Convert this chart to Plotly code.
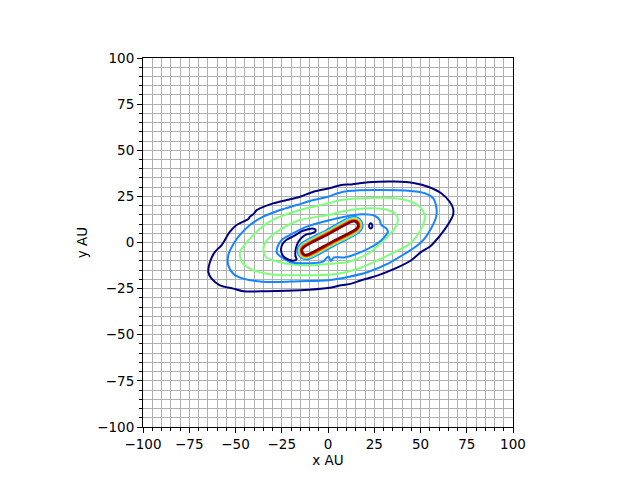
import plotly.graph_objects as go

# ---- data: contour paths (x AU, y AU) ----
navy_outer_x = [-64.7, -63.8, -61.1, -57.5, -53.0, -49.4, -43.1, -42.2, -40.4, -38.5, -36.8, -29.6, -22.3, -15.1, -7.9, 1.1, 3.6, 7.2, 12.6, 21.6, 36.1, 46.9, 54.1, 61.2, 65.8, 67.6, 67.6, 65.8, 62.2, 57.7, 55.0, 50.4, 45.0, 36.1, 27.0, 18.0, 12.6, 7.2, 0.0, -15.1, -33.1, -45.8, -51.2, -58.4, -62.9]
navy_outer_y = [-16.0, -10.6, -5.1, -1.4, 5.9, 9.5, 12.7, 14.0, 15.3, 17.6, 18.5, 21.2, 23.0, 24.8, 27.5, 29.5, 30.2, 31.2, 31.5, 32.6, 33.0, 32.1, 30.2, 26.7, 22.1, 18.5, 14.9, 11.3, 5.9, 0.4, -2.3, -5.1, -9.6, -14.2, -17.8, -20.5, -22.3, -23.2, -24.7, -25.9, -26.4, -26.4, -25.0, -23.2, -19.6]

blue_outer_x = [-53.9, -53.9, -50.8, -47.6, -42.2, -35.0, -25.9, -16.9, -7.9, 0.0, 5.4, 10.8, 27.0, 45.0, 52.3, 56.8, 58.5, 58.5, 55.8, 52.3, 48.6, 41.5, 32.4, 21.6, 10.8, 0.0, -15.1, -33.1, -45.8, -51.2]
blue_outer_y = [-12.4, -6.9, -0.3, 4.1, 9.5, 14.0, 17.6, 20.3, 23.0, 24.8, 26.7, 27.9, 28.5, 27.9, 26.7, 24.0, 19.4, 14.0, 7.7, 2.3, -1.4, -6.1, -11.5, -16.0, -18.7, -20.5, -21.0, -21.4, -19.6, -16.9]

green_outer_x = [-46.6, -47.6, -43.8, -38.5, -33.1, -25.9, -16.9, -7.9, 0.0, 7.2, 18.0, 36.1, 45.0, 49.6, 52.3, 51.4, 47.7, 43.2, 36.1, 27.0, 16.2, 5.4, -15.1, -33.1, -42.2]
green_outer_y = [-10.6, -5.1, 0.3, 5.9, 10.4, 14.0, 17.1, 19.4, 21.2, 23.0, 24.0, 24.0, 22.1, 19.4, 14.9, 9.5, 3.1, -1.4, -5.1, -9.6, -14.2, -16.9, -17.8, -16.9, -14.2]

green_inner_x = [-34.9, -32.4, -25.4, -15.1, 0.0, 9.0, 21.6, 30.6, 36.1, 37.8, 36.1, 32.4, 28.1, 21.6, 10.8, 1.1, -11.5, -25.4, -33.5]
green_inner_y = [-3.0, 1.9, 7.3, 12.2, 14.9, 17.1, 18.5, 18.0, 15.8, 12.2, 7.7, 3.5, -0.8, -6.1, -10.6, -11.5, -12.4, -10.8, -7.9]

blue_inner_x = [-27.3, -25.0, -20.5, -11.5, 0.0, 9.0, 18.0, 25.2, 27.9, 28.8, 31.5, 32.4, 30.6, 27.0, 18.0, 9.0, 3.2, 1.6, 0.3, -1.1, -2.7, -13.5, -20.5, -27.6]
blue_inner_y = [-2.4, 1.4, 4.1, 8.6, 11.9, 14.0, 15.3, 14.5, 12.2, 9.5, 7.7, 5.9, 3.1, -0.3, -5.1, -8.1, -8.1, -10.0, -7.6, -8.7, -10.4, -11.3, -10.6, -5.7]

navy_crescent_x = [-18.1, -21.6, -24.3, -25.4, -24.6, -22.2, -18.9, -16.2, -14.1, -11.4, -8.6, -6.8, -7.0, -9.2, -11.9, -14.1, -15.9, -17.0, -17.6, -17.6, -17.0]
navy_crescent_y = [-9.8, -9.2, -7.3, -4.1, -0.8, 1.6, 3.3, 4.9, 6.2, 7.0, 7.6, 7.0, 5.7, 4.9, 4.3, 2.7, 0.5, -1.9, -4.6, -7.3, -9.2]

navy_dot_x = [23.1, 23.9, 23.9, 23.1, 22.3, 22.3]
navy_dot_y = [10.4, 9.6, 8.4, 7.6, 8.4, 9.6]

core_blue_x = [18.2, 15.4, 11.7, -1.2, -14.1, -16.4, -16.0, -13.2, -9.6, 3.4, 16.3, 18.6]
core_blue_y = [11.5, 13.8, 13.5, 6.6, -0.2, -3.0, -6.7, -9.0, -8.7, -1.8, 5.0, 7.8]
core_cyan_x = [17.7, 15.2, 12.0, -0.9, -13.8, -15.8, -15.5, -13.0, -9.8, 3.1, 16.0, 18.0]
core_cyan_y = [11.2, 13.3, 13.0, 6.1, -0.7, -3.2, -6.4, -8.5, -8.2, -1.3, 5.5, 8.0]
core_yellow_x = [17.3, 15.1, 12.3, -0.6, -13.5, -15.3, -15.1, -12.9, -10.1, 2.8, 15.7, 17.5]
core_yellow_y = [11.0, 12.8, 12.5, 5.7, -1.2, -3.4, -6.2, -8.0, -7.7, -0.9, 6.0, 8.2]
core_orange_x = [16.9, 15.0, 12.5, -0.5, -13.4, -15.0, -14.7, -12.8, -10.3, 2.7, 15.6, 17.2]
core_orange_y = [10.8, 12.4, 12.2, 5.3, -1.5, -3.5, -6.0, -7.6, -7.4, -0.5, 6.3, 8.3]
core_red_x = [16.6, 14.9, 12.6, -0.3, -13.2, -14.6, -14.4, -12.7, -10.4, 2.5, 15.4, 16.8]
core_red_y = [10.6, 12.0, 11.8, 5.0, -1.9, -3.6, -5.8, -7.2, -7.0, -0.2, 6.7, 8.4]
core_darkred_x = [16.0, 14.7, 12.9, 0.0, -12.9, -14.0, -13.8, -12.5, -10.7, 2.2, 15.1, 16.2]
core_darkred_y = [10.3, 11.5, 11.3, 4.4, -2.4, -3.8, -5.5, -6.7, -6.5, 0.4, 7.2, 8.6]

tick_vals = [-100, -75, -50, -25, 0, 25, 50, 75, 100]
tick_text = ["\u2212100", "\u221275", "\u221250", "\u221225", "0", "25", "50", "75", "100"]

NAVY = "#00007f"
BLUE = "#1484ff"
GREEN = "#7dff7a"

paths = [
    (navy_outer_x, navy_outer_y, NAVY, 2),
    (blue_outer_x, blue_outer_y, BLUE, 2),
    (green_outer_x, green_outer_y, GREEN, 2),
    (green_inner_x, green_inner_y, GREEN, 2),
    (blue_inner_x, blue_inner_y, BLUE, 2),
    (navy_crescent_x, navy_crescent_y, NAVY, 2),
    (navy_dot_x, navy_dot_y, NAVY, 2),
    (core_blue_x, core_blue_y, BLUE, 1.5),
    (core_cyan_x, core_cyan_y, "#2cf5e0", 1.5),
    (core_yellow_x, core_yellow_y, "#f5e600", 1.5),
    (core_orange_x, core_orange_y, "#ff8c00", 1.5),
    (core_red_x, core_red_y, "#ee1a00", 1.5),
    (core_darkred_x, core_darkred_y, "#800000", 2.5),
]

fig = go.Figure()
for xs, ys, col, w in paths:
    fig.add_trace(go.Scatter(
        x=list(xs) + [xs[0]], y=list(ys) + [ys[0]],
        mode="lines", line=dict(color=col, width=w, shape="spline", smoothing=0.8),
        showlegend=False, hoverinfo="skip"))

axis_common = dict(
    range=[-100, 100], tickmode="array", tickvals=tick_vals, ticktext=tick_text,
    ticks="outside", ticklen=5, tickwidth=1, tickcolor="black",
    showline=True, linecolor="black", linewidth=1, mirror=True,
    showgrid=True, gridcolor="#b0b0b0", gridwidth=1, zeroline=False,
    automargin=False,
    minor=dict(dtick=5, tick0=0, ticks="outside", ticklen=3, tickwidth=1, tickcolor="black",
               showgrid=True, gridcolor="#b0b0b0", gridwidth=1),
    tickfont=dict(family="DejaVu Sans", size=13.5, color="black"),
)

fig.update_layout(
    width=624, height=464,
    margin=dict(l=135, r=119, t=50, b=45),
    paper_bgcolor="white", plot_bgcolor="white",
    font=dict(family="DejaVu Sans", size=13.5, color="black"),
    xaxis=dict(axis_common, title=dict(text="x AU", standoff=4, font=dict(size=13.5))),
    yaxis=dict(axis_common, title=dict(text="y AU", standoff=6, font=dict(size=13.5))),
)

fig.write_html("out.html")
